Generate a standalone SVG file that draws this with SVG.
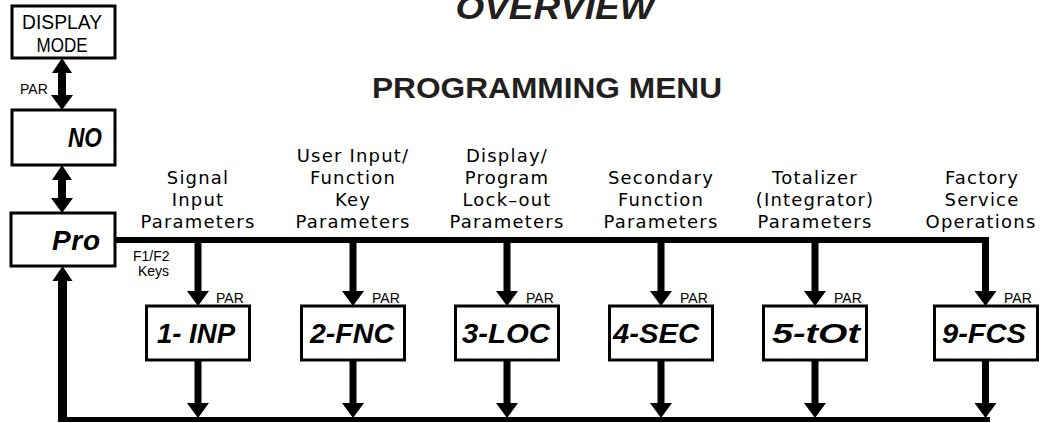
<svg xmlns="http://www.w3.org/2000/svg" xmlns:xlink="http://www.w3.org/1999/xlink" width="1041" height="423" viewBox="0 0 1041 423">
<style>
.box{fill:#fff;stroke:#000;stroke-width:3}
.title{font-family:"Liberation Sans",Arial,sans-serif;font-weight:bold;fill:#231f20;text-anchor:middle}
.lbl{font-family:"DejaVu Sans",sans-serif;font-size:18px;letter-spacing:1.2px;text-anchor:middle;fill:#000}
.small{font-family:"Liberation Sans",Arial,sans-serif;font-size:14px;fill:#000}
.seg{font-family:"Liberation Sans",Arial,sans-serif;font-weight:bold;font-style:italic;font-size:28px;fill:#000}
.dm{font-family:"Liberation Sans",Arial,sans-serif;font-size:20px;text-anchor:middle;fill:#000}
.ln{fill:#000}
</style>
<defs>
<path id="ahd" d="M-11,-15 L11,-15 L0,0 Z"/>
<path id="ahu" d="M-10,15 L10,15 L0,0 Z"/>
</defs>
<rect width="1041" height="423" fill="#fff"/>

<text class="title" x="555" y="19" font-size="33" font-style="italic" textLength="199" lengthAdjust="spacingAndGlyphs">OVERVIEW</text>
<text class="title" x="547" y="98" font-size="29" textLength="350" lengthAdjust="spacingAndGlyphs">PROGRAMMING MENU</text>

<g id="connectors">
  <rect class="ln" x="58" y="70" width="8" height="28"/>
  <use xlink:href="#ahu" x="62" y="58"/>
  <use xlink:href="#ahd" x="62" y="110"/>
  <rect class="ln" x="58" y="177" width="8" height="24"/>
  <use xlink:href="#ahu" x="62" y="165"/>
  <use xlink:href="#ahd" x="62" y="213"/>
  <rect class="ln" x="115" y="237" width="874" height="6"/>
  <rect class="ln" x="58" y="417" width="932" height="5"/>
  <rect class="ln" x="58" y="278" width="9" height="144"/>
  <use xlink:href="#ahu" x="62.5" y="266"/>
  <g>
    <rect class="ln" x="194.5" y="240" width="7" height="52"/><use xlink:href="#ahd" x="198" y="306"/>
    <rect class="ln" x="194.5" y="360" width="7" height="45"/><use xlink:href="#ahd" x="198" y="418"/>
    <rect class="ln" x="349.5" y="240" width="7" height="52"/><use xlink:href="#ahd" x="353" y="306"/>
    <rect class="ln" x="349.5" y="360" width="7" height="45"/><use xlink:href="#ahd" x="353" y="418"/>
    <rect class="ln" x="503.5" y="240" width="7" height="52"/><use xlink:href="#ahd" x="507" y="306"/>
    <rect class="ln" x="503.5" y="360" width="7" height="45"/><use xlink:href="#ahd" x="507" y="418"/>
    <rect class="ln" x="657.5" y="240" width="7" height="52"/><use xlink:href="#ahd" x="661" y="306"/>
    <rect class="ln" x="657.5" y="360" width="7" height="45"/><use xlink:href="#ahd" x="661" y="418"/>
    <rect class="ln" x="811.5" y="240" width="7" height="52"/><use xlink:href="#ahd" x="815" y="306"/>
    <rect class="ln" x="811.5" y="360" width="7" height="45"/><use xlink:href="#ahd" x="815" y="418"/>
    <rect class="ln" x="982" y="237" width="7" height="55"/><use xlink:href="#ahd" x="985.5" y="306"/>
    <rect class="ln" x="982" y="360" width="7" height="45"/><use xlink:href="#ahd" x="985.5" y="418"/>
  </g>
  <text class="small" x="20" y="94">PAR</text>
  <text class="small" x="133" y="261">F1/F2</text>
  <text class="small" x="138" y="276">Keys</text>
  <text class="small" x="216" y="303">PAR</text>
  <text class="small" x="372" y="303">PAR</text>
  <text class="small" x="526" y="303">PAR</text>
  <text class="small" x="680" y="303">PAR</text>
  <text class="small" x="834" y="303">PAR</text>
  <text class="small" x="1004" y="303">PAR</text>
</g>

<g id="display-mode">
  <rect class="box" x="12" y="6" width="103" height="52"/>
  <text class="dm" x="62" y="29" textLength="80" lengthAdjust="spacingAndGlyphs">DISPLAY</text>
  <text class="dm" x="62" y="52" textLength="51" lengthAdjust="spacingAndGlyphs">MODE</text>
</g>
<g id="no">
  <rect class="box" x="12" y="110" width="103" height="55"/>
  <text class="seg" x="68" y="147" textLength="34" lengthAdjust="spacingAndGlyphs">NO</text>
</g>
<g id="pro">
  <rect class="box" x="11" y="213" width="104" height="53"/>
  <text class="seg" x="52" y="250" font-size="26" textLength="48" lengthAdjust="spacing">Pro</text>
</g>

<g id="col-inp">
  <text class="lbl" x="198" y="184">Signal</text>
  <text class="lbl" x="198" y="206">Input</text>
  <text class="lbl" x="198" y="228">Parameters</text>
  <rect class="box" x="146.5" y="306" width="103" height="54"/>
  <text class="seg" x="157" y="343" textLength="78" lengthAdjust="spacingAndGlyphs">1- INP</text>
</g>
<g id="col-fnc">
  <text class="lbl" x="353" y="162">User  Input/</text>
  <text class="lbl" x="353" y="184">Function</text>
  <text class="lbl" x="353" y="206">Key</text>
  <text class="lbl" x="353" y="228">Parameters</text>
  <rect class="box" x="301.5" y="306" width="103" height="54"/>
  <text class="seg" x="310" y="343" textLength="84" lengthAdjust="spacingAndGlyphs">2-FNC</text>
</g>
<g id="col-loc">
  <text class="lbl" x="507" y="162">Display/</text>
  <text class="lbl" x="507" y="184">Program</text>
  <text class="lbl" x="507" y="206">Lock–out</text>
  <text class="lbl" x="507" y="228">Parameters</text>
  <rect class="box" x="455.5" y="306" width="103" height="54"/>
  <text class="seg" x="462" y="343" textLength="88" lengthAdjust="spacingAndGlyphs">3-LOC</text>
</g>
<g id="col-sec">
  <text class="lbl" x="661" y="184">Secondary</text>
  <text class="lbl" x="661" y="206">Function</text>
  <text class="lbl" x="661" y="228">Parameters</text>
  <rect class="box" x="609.5" y="306" width="103" height="54"/>
  <text class="seg" x="613" y="343" textLength="86" lengthAdjust="spacingAndGlyphs">4-SEC</text>
</g>
<g id="col-tot">
  <text class="lbl" x="815" y="184">Totalizer</text>
  <text class="lbl" x="815" y="206">(Integrator)</text>
  <text class="lbl" x="815" y="228">Parameters</text>
  <rect class="box" x="763.5" y="306" width="103" height="54"/>
  <text class="seg" x="772" y="343" textLength="88" lengthAdjust="spacingAndGlyphs">5-tOt</text>
</g>
<g id="col-fcs">
  <text class="lbl" x="982" y="184">Factory</text>
  <text class="lbl" x="982" y="206">Service</text>
  <text class="lbl" x="981" y="228">Operations</text>
  <rect class="box" x="934.5" y="306" width="103" height="54"/>
  <text class="seg" x="942" y="343" textLength="84" lengthAdjust="spacingAndGlyphs">9-FCS</text>
</g>
</svg>
